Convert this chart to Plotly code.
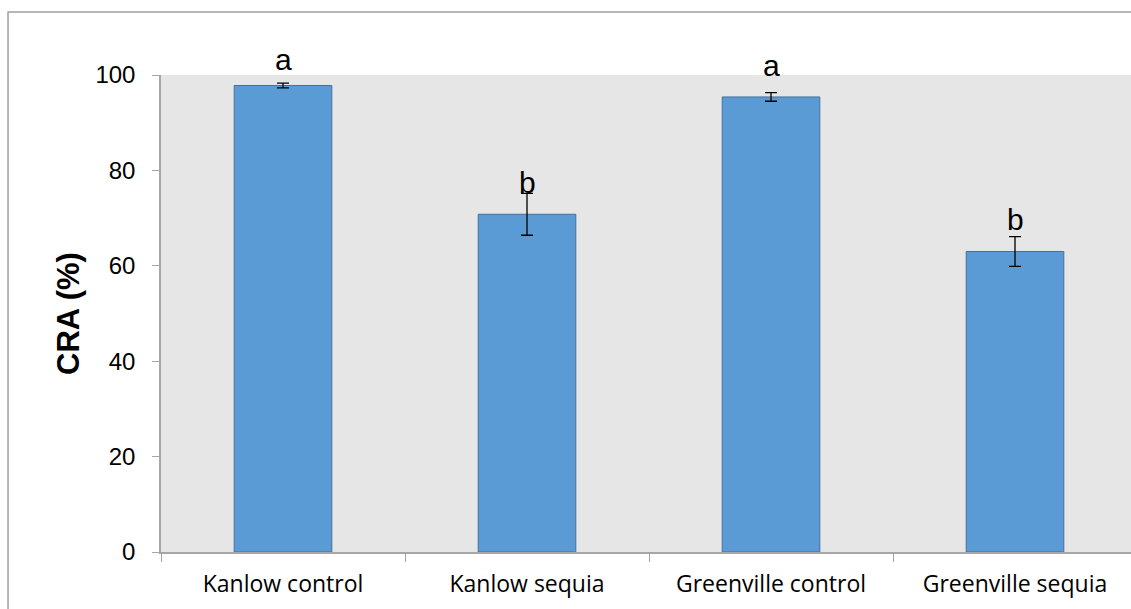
import plotly.graph_objects as go

# Relative water content (CRA) per cultivar and treatment
categories = ["Kanlow control", "Kanlow sequia", "Greenville control", "Greenville sequia"]
cra_mean = [97.8, 70.8, 95.4, 63.0]
cra_err = [0.5, 4.4, 0.9, 3.1]
group_letters = ["a", "b", "a", "b"]
y_ticks = [0, 20, 40, 60, 80, 100]

# vertical offset (px) of each significance letter above its bar
letter_shift = [13, 19, 19, 19]

fig = go.Figure()

fig.add_trace(go.Bar(
    x=categories,
    y=cra_mean,
    width=0.4,
    marker=dict(color="#5B9BD5", line=dict(color="#41719C", width=1)),
    error_y=dict(type="data", array=cra_err, visible=True,
                 color="#000000", thickness=1.3, width=6),
    showlegend=False,
    hoverinfo="skip",
))

for cat, val, letter, shift in zip(categories, cra_mean, group_letters, letter_shift):
    fig.add_annotation(
        x=cat, y=val, text=letter, showarrow=False,
        xref="x", yref="y", yanchor="bottom", yshift=shift - 6,
        font=dict(family="Liberation Sans, Arial", size=30, color="#000000"),
    )

# frame around the whole chart area
fig.add_shape(
    type="rect", xref="paper", yref="paper",
    x0=-0.1577, x1=1.05, y0=-0.3, y1=1.132,
    line=dict(color="#A0A0A0", width=1.5), fillcolor="rgba(0,0,0,0)", layer="below",
)

fig.update_layout(
    width=1131, height=609,
    margin=dict(l=161, r=0, t=75, b=57),
    paper_bgcolor="#FFFFFF",
    plot_bgcolor="#E6E6E6",
    bargap=0.6,
    xaxis=dict(
        type="category",
        range=[-0.5, 3.4754],
        tickson="boundaries",
        ticks="outside", ticklen=8, tickcolor="#A6A6A6", tickwidth=1,
        showline=True, linecolor="#A6A6A6", linewidth=1.5,
        showgrid=False, zeroline=False,
        tickfont=dict(family="Open Sans, Lato", size=23, color="#000000"),
        ticklabelstandoff=11,
    ),
    yaxis=dict(
        range=[0, 100],
        tickvals=y_ticks,
        ticks="outside", ticklen=7, tickcolor="#A6A6A6", tickwidth=1,
        showline=True, linecolor="#A6A6A6", linewidth=1.5,
        showgrid=False, zeroline=False,
        tickfont=dict(family="Liberation Sans, Arial", size=24, color="#000000"),
        ticklabelstandoff=12,
        title=dict(text="<b>CRA (%)</b>", standoff=7,
                   font=dict(family="Liberation Sans, Arial", size=31, color="#000000")),
    ),
)

fig.write_html("out.html")
